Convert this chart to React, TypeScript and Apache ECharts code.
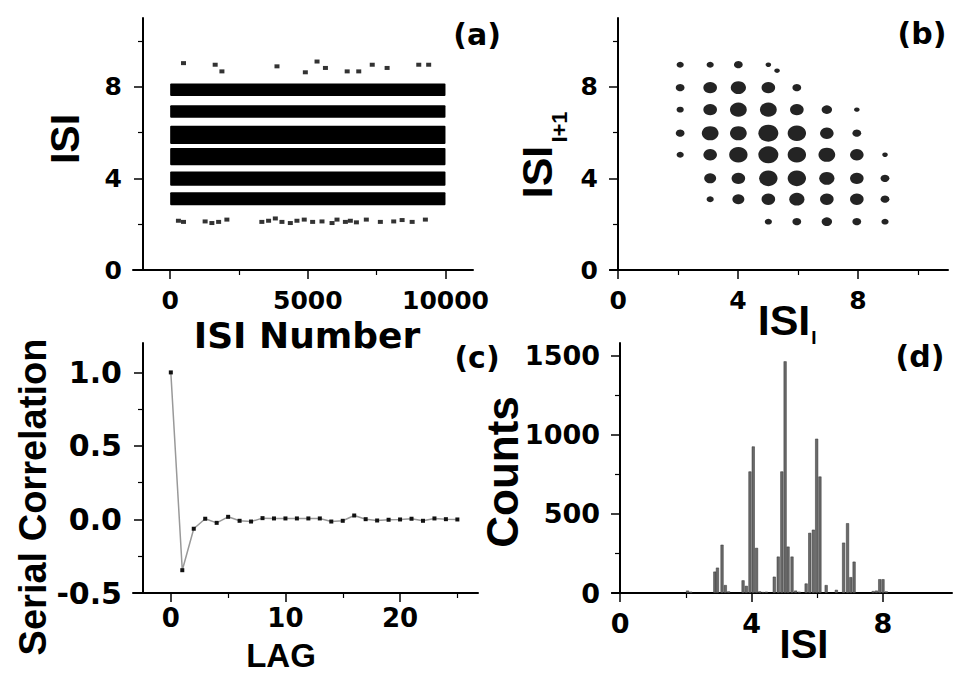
import React, { useEffect, useRef } from "react";
import * as echarts from "echarts";

// ---------- Panel (a): ISI vs ISI number ----------
const bandLevels = [3.11, 3.99, 4.95, 5.9, 6.92, 7.87];
const bandThickness = [0.56, 0.63, 0.75, 0.8, 0.55, 0.55];
const bandStart = [0, 0, 0, 0, 0, 0];
const bandEnd = [10000, 10000, 10000, 10000, 10000, 10000];
const sparseLowX = [300, 485, 1270, 1515, 1760, 2060, 3330, 3575, 3820, 4060, 4365, 4605, 4870, 5175, 5515, 5880, 6060, 6365, 6545, 6765, 7125, 7635, 8120, 8425, 8790, 9270];
const sparseLowY = [2.15, 2.1, 2.12, 2.05, 2.1, 2.2, 2.1, 2.15, 2.25, 2.1, 2.05, 2.15, 2.2, 2.1, 2.12, 2.05, 2.2, 2.1, 2.15, 2.08, 2.2, 2.1, 2.12, 2.18, 2.1, 2.2];
const sparseHighX = [485, 1635, 1880, 3880, 4910, 5335, 5640, 6430, 6850, 7340, 7880, 9030, 9390];
const sparseHighY = [9.03, 8.96, 8.67, 8.89, 8.63, 9.1, 8.82, 8.67, 8.67, 8.96, 8.82, 8.96, 8.96];

// ---------- Panel (b): return map ISI_i vs ISI_i+1 ----------
const returnX = [
  2.07, 2.07, 2.07, 2.07, 2.07,
  3.07, 3.07, 3.07, 3.07, 3.07, 3.07, 3.07,
  4.01, 4.01, 4.01, 4.01, 4.01, 4.01, 4.01,
  5.01, 5.01, 5.01, 5.01, 5.01, 5.01, 5.01, 5.01, 5.3,
  5.96, 5.96, 5.96, 5.96, 5.96, 5.96, 5.96,
  6.96, 6.96, 6.96, 6.96, 6.96, 6.96,
  7.96, 7.96, 7.96, 7.96, 7.96, 7.96,
  8.9, 8.9, 8.9, 8.9,
];
const returnY = [
  8.96, 7.96, 7.0, 5.97, 5.03,
  8.96, 7.96, 7.0, 5.97, 5.03, 4.0, 3.09,
  8.96, 7.96, 7.0, 5.97, 5.03, 4.0, 3.09,
  8.96, 7.96, 7.0, 5.97, 5.03, 4.0, 3.09, 2.11, 8.7,
  7.96, 7.0, 5.97, 5.03, 4.0, 3.09, 2.11,
  7.0, 5.97, 5.03, 4.0, 3.09, 2.11,
  7.0, 5.97, 5.03, 4.0, 3.09, 2.11,
  5.03, 4.0, 3.09, 2.11,
];
const returnDensity = [
  1, 1.5, 1, 1.5, 1,
  1, 3, 3, 4, 3, 2.5, 1,
  1.5, 3.5, 4, 4, 4.5, 3, 2.5,
  0.5, 3, 4, 5, 5, 4.5, 3, 1, 0.5,
  1.5, 3, 4.5, 4.5, 4.5, 3.5, 1.5,
  2, 3, 4, 3.5, 3, 2,
  0.5, 1.5, 3, 3, 3, 1.5,
  0.5, 1.5, 1.5, 1,
];

// ---------- Panel (c): serial correlation ----------
const lags = [0, 1, 2, 3, 4, 5, 6, 7, 8, 9, 10, 11, 12, 13, 14, 15, 16, 17, 18, 19, 20, 21, 22, 23, 24, 25];
const serialCorr = [1.0, -0.345, -0.063, 0.005, -0.023, 0.018, -0.009, -0.014, 0.009, 0.007, 0.007, 0.007, 0.007, 0.007, -0.014, -0.009, 0.027, 0.002, -0.007, -0.002, 0.0, 0.005, -0.009, 0.007, 0.002, 0.0];

// ---------- Panel (d): ISI histogram ----------
const histCenters = [2.05, 2.15, 2.88, 2.96, 3.1, 3.2, 3.3, 3.74, 3.84, 3.95, 4.05, 4.15, 4.25, 4.35, 4.45, 4.69, 4.81, 4.92, 5.02, 5.11, 5.23, 5.34, 5.45, 5.66, 5.77, 5.88, 5.98, 6.08, 6.27, 6.58, 6.8, 6.92, 7.02, 7.12, 7.7, 7.8, 7.9, 8.0, 8.1];
const histCounts = [15, 8, 135, 160, 305, 50, 10, 80, 45, 768, 926, 285, 10, 6, 8, 103, 230, 768, 1464, 293, 230, 15, 8, 60, 380, 400, 975, 736, 50, 20, 318, 441, 100, 198, 12, 15, 87, 87, 10];

// ---------- tick values ----------
const ticksA_X = [0, 5000, 10000];
const minorA_X = [2500, 7500];
const ticksISI = [0, 4, 8];
const minorISI = [2, 6, 10];
const ticksC_X = [0, 10, 20];
const minorC_X = [5, 15, 25];
const ticksC_Y = [-0.5, 0, 0.5, 1.0];
const minorC_Y = [-0.25, 0.25, 0.75];
const ticksD_X = [0, 4, 8];
const minorD_X = [2, 6];
const ticksD_Y = [0, 500, 1000, 1500];
const minorD_Y = [250, 750, 1250];

const TICK_FONT = "DejaVu Sans";
const NAME_FONT = "Liberation Sans";

function axisPair(
  dim: "x" | "y",
  gridIndex: number,
  min: number,
  max: number,
  majors: number[],
  minors: number[],
  offset: number,
  margin: number,
  fontSize: number,
  formatter?: (v: number) => string
) {
  const position = dim === "x" ? "bottom" : "left";
  const major: any = {
    type: "value",
    gridIndex,
    min,
    max,
    position,
    offset,
    axisLine: { show: true, onZero: false, lineStyle: { color: "#000", width: 2 } },
    axisTick: { show: true, customValues: majors, length: 9, lineStyle: { color: "#000", width: 1.5 } },
    axisLabel: {
      show: true,
      customValues: majors,
      margin,
      color: "#000",
      fontFamily: TICK_FONT,
      fontWeight: "bold",
      fontSize,
      formatter: formatter ? (v: number) => formatter(v) : (v: number) => String(v),
    },
    splitLine: { show: false },
  };
  const minor: any = {
    type: "value",
    gridIndex,
    min,
    max,
    position,
    offset,
    axisLine: { show: false, onZero: false },
    axisTick: { show: true, customValues: minors, length: 5, lineStyle: { color: "#000", width: 1.2 } },
    axisLabel: { show: false },
    splitLine: { show: false },
  };
  return [major, minor];
}

function txt(x: number, y: number, text: string, size: number, font: string, rotate = false) {
  return {
    type: "text",
    x,
    y,
    rotation: rotate ? Math.PI / 2 : 0,
    style: {
      text,
      fill: "#000",
      font: `bold ${size}px "${font}"`,
      align: "center",
      verticalAlign: "middle",
    },
  };
}

export default function App() {
  const ref = useRef<HTMLDivElement>(null);

  useEffect(() => {
    document.body.style.margin = "0";
    const chart = echarts.init(ref.current!, null, { renderer: "svg" });

    const xA = axisPair("x", 0, -1350, 11000, ticksA_X, minorA_X, 0, 18, 25);
    const yA = axisPair("y", 0, 0, 11, ticksISI, minorISI, -10, 21, 25);
    const xB = axisPair("x", 1, -0.27, 11, ticksISI, minorISI, 0, 18, 25);
    const yB = axisPair("y", 1, 0, 11, ticksISI, minorISI, -8, 20, 25);
    const xC = axisPair("x", 2, -3.3, 26.8, ticksC_X, minorC_X, 0, 12, 26);
    const yC = axisPair("y", 2, -0.5, 1.2, ticksC_Y, minorC_Y, -10, 21, 30, (v) => v.toFixed(1));
    const xD = axisPair("x", 3, -0.25, 10.1, ticksD_X, minorD_X, 0, 17, 27);
    const yD = axisPair("y", 3, 0, 1580, ticksD_Y, minorD_Y, -8, 20, 27);

    const bandData = bandLevels.map((lv, i) => [bandStart[i], bandEnd[i], lv, bandThickness[i]]);

    const option: any = {
      animation: false,
      backgroundColor: "#fff",
      grid: [
        { left: 133, top: 18, width: 340, height: 252 },
        { left: 610, top: 18, width: 338, height: 252 },
        { left: 133, top: 343, width: 345, height: 250 },
        { left: 612, top: 343, width: 340, height: 250 },
      ],
      xAxis: [...xA, ...xB, ...xC, ...xD],
      yAxis: [...yA, ...yB, ...yC, ...yD],
      series: [
        {
          type: "custom",
          xAxisIndex: 0,
          yAxisIndex: 0,
          data: bandData,
          encode: { x: [0, 1], y: 2 },
          renderItem: (params: any, api: any) => {
            const half = api.value(3) / 2;
            const p0 = api.coord([api.value(0), api.value(2) + half]);
            const p1 = api.coord([api.value(1), api.value(2) - half]);
            return {
              type: "rect",
              shape: { x: p0[0], y: p0[1], width: p1[0] - p0[0], height: p1[1] - p0[1], r: 1 },
              style: { fill: "#000" },
            };
          },
        },
        {
          type: "scatter",
          xAxisIndex: 0,
          yAxisIndex: 0,
          symbol: "rect",
          symbolSize: [5, 4],
          itemStyle: { color: "#000" },
          data: sparseLowX.map((x, i) => [x, sparseLowY[i]]),
        },
        {
          type: "scatter",
          xAxisIndex: 0,
          yAxisIndex: 0,
          symbol: "rect",
          symbolSize: [5, 4],
          itemStyle: { color: "#000" },
          data: sparseHighX.map((x, i) => [x, sparseHighY[i]]),
        },
        {
          type: "scatter",
          xAxisIndex: 2,
          yAxisIndex: 2,
          symbol: "circle",
          itemStyle: { color: "#111", opacity: 0.92 },
          data: returnX.map((x, i) => ({
            value: [x, returnY[i], returnDensity[i]],
            symbolSize: [4 + 3.2 * returnDensity[i], 3 + 2.8 * returnDensity[i]],
          })),
        },
        {
          type: "line",
          xAxisIndex: 4,
          yAxisIndex: 4,
          data: lags.map((l, i) => [l, serialCorr[i]]),
          lineStyle: { color: "#999", width: 1.5 },
          symbol: "rect",
          symbolSize: 4,
          itemStyle: { color: "#111" },
        },
        {
          type: "bar",
          xAxisIndex: 6,
          yAxisIndex: 6,
          barWidth: 3,
          data: histCenters.map((c, i) => [c, histCounts[i]]),
          itemStyle: { color: "#6a6a6a", borderColor: "#333", borderWidth: 0.5 },
        },
      ],
      graphic: [
        txt(477, 34, "(a)", 30, "DejaVu Sans"),
        txt(922, 33, "(b)", 30, "DejaVu Sans"),
        txt(477, 357, "(c)", 30, "DejaVu Sans"),
        txt(920, 356, "(d)", 30, "DejaVu Sans"),
        txt(65, 139, "ISI", 41, NAME_FONT, true),
        txt(307, 335, "ISI Number", 36, "DejaVu Sans"),
        txt(537, 172, "ISI", 43, NAME_FONT, true),
        txt(559, 127, "I+1", 22, NAME_FONT, true),
        txt(784, 320, "ISI", 43, NAME_FONT),
        txt(814, 337, "I", 19, NAME_FONT),
        txt(33, 497, "Serial Correlation", 38, NAME_FONT, true),
        txt(281, 655, "LAG", 33, NAME_FONT),
        txt(502, 472, "Counts", 44, NAME_FONT, true),
        txt(804, 644, "ISI", 40, NAME_FONT),
      ],
    };

    chart.setOption(option);
    return () => chart.dispose();
  }, []);

  return (
    <div
      ref={ref}
      style={{ position: "fixed", left: 0, top: 0, width: 955, height: 674, background: "#fff" }}
    />
  );
}
